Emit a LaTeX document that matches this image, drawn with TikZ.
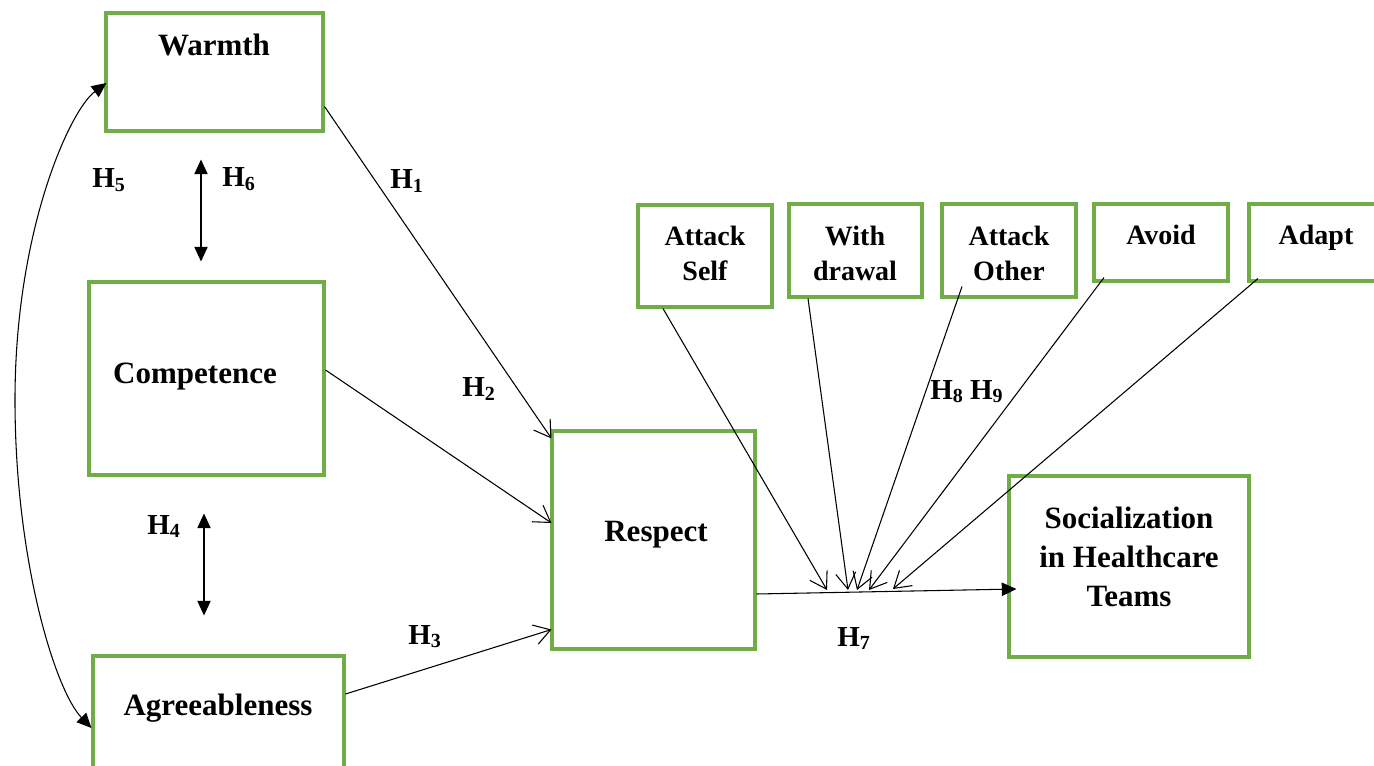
\documentclass[tikz,border=0pt]{standalone}
\usepackage{fontspec}
\setmainfont{Liberation Serif}
\usetikzlibrary{arrows.meta,fit}
\definecolor{boxgreen}{HTML}{70AD47}
% hypothesis label: H with a small, slightly lowered index
\newcommand\hyp[1]{H\raisebox{-0.25ex}{\fontsize{15}{15}\selectfont #1}}
\begin{document}
\begin{tikzpicture}[x=0.75pt,y=-0.75pt,
  box/.style={draw=boxgreen, line width=2.3pt, inner sep=0pt},
  lbl/.style={font=\bfseries\fontsize{23.25}{29.25}\selectfont, inner sep=0pt, anchor=base},
  slbl/.style={font=\bfseries\fontsize{23.25}{29.25}\selectfont, inner sep=0pt, align=center},
  mlbl/.style={font=\bfseries\fontsize{21}{26.25}\selectfont, inner sep=0pt, align=center},
  hlbl/.style={font=\bfseries\fontsize{21.75}{26}\selectfont, inner sep=0pt, anchor=base west},
  link/.style={line width=0.8pt, -{Straight Barb[length=12pt,width=15pt,line width=0.8pt]}},
  solidlink/.style={line width=0.8pt, -{Triangle[length=11pt,width=10pt]}},
  both/.style={line width=0.8pt, {Triangle[length=11pt,width=10pt]}-{Triangle[length=11pt,width=10pt]}}]
\useasboundingbox (0,0) rectangle (1374,766);
\clip (0,0) rectangle (1374,766);

% construct boxes
\node[box, fit={(106,13) (323,131)}] (warmth) {};
\node[box, fit={(89,282) (324,475)}] (comp) {};
\node[box, fit={(93,656) (344,800)}] (agree) {};
\node[box, fit={(552,431) (755,649)}] (respect) {};
\node[box, fit={(1009,476) (1249,657)}] (soc) {};

% conflict styles
\node[box, fit={(638,205) (772,307)}] (aself) {};
\node[box, fit={(789,204) (922,297)}] (withd) {};
\node[box, fit={(942,204) (1076,297)}] (aother) {};
\node[box, fit={(1094,204) (1228,281)}] (avoid) {};
\node[box, fit={(1249,204) (1383,281)}] (adapt) {};

% box texts
\node[lbl] (warmthT) at (214,56) {Warmth};
\node[lbl] (compT) at (195,384) {Competence};
\node[lbl] (agreeT) at (218,715) {Agreeableness};
\node[lbl] (respectT) at (656,541) {Respect};
\node[slbl] (socT) at (1129,557) {Socialization\\in Healthcare\\Teams};
\node[mlbl] (aselfT) at (705,253) {Attack\\Self};
\node[mlbl] (withdT) at (855,253) {With\\drawal};
\node[mlbl] (aotherT) at (1009,253) {Attack\\Other};
\node[mlbl, anchor=base] (avoidT) at (1161,245) {Avoid};
\node[mlbl, anchor=base] (adaptT) at (1316,245) {Adapt};

% paths into Respect
\draw[link] ([shift={(0,-26)}]warmth.south east) -- ([shift={(1,9)}]respect.north west);
\draw[link] ([shift={(0,-8.5)}]comp.east) -- ([shift={(1,-17)}]respect.west);
\draw[link] ([shift={(0,-34)}]agree.east) -- ([shift={(1,-21)}]respect.south west);

% Respect to Socialization
\draw[solidlink] ([shift={(0,54)}]respect.east) -- ([shift={(9,22.5)}]soc.west);

% moderating effects on the Respect -> Socialization path
\coordinate (m1) at (827,590);
\coordinate (m2) at (848,590);
\coordinate (m3) at (857,590);
\coordinate (m4) at (869,590);
\coordinate (m5) at (893,589);
\draw[link] ([shift={(-42,0)}]aself.south) -- (m1);
\draw[link] ([shift={(-47.5,0)}]withd.south) -- (m2);
\draw[link] ([shift={(-47,-12)}]aother.south) -- (m3);
\draw[link] ([shift={(-57,-5)}]avoid.south) -- (m4);
\draw[link] ([shift={(-58,-4)}]adapt.south) -- (m5);

% correlations among the traits
\draw[both] ([shift={(-13.5,27)}]warmth.south) -- ([shift={(-5.5,-19)}]comp.north);
\draw[both] ([shift={(-2.5,37)}]comp.south) -- ([shift={(-14.5,-39)}]agree.north);
\draw[line width=0.8pt, {Triangle[length=11pt,width=10pt]}-{Triangle[length=11pt,width=10pt]}]
  ([shift={(2,11)}]warmth.west) .. controls (70,110) and (15,230) .. (15,400)
  .. controls (15,560) and (55,690) .. (agree.west);

% hypothesis labels
\node[hlbl] (h1) at (390,189) {\hyp{1}};
\node[hlbl] (h2) at (462,397) {\hyp{2}};
\node[hlbl] (h3) at (408,644) {\hyp{3}};
\node[hlbl] (h4) at (147,534) {\hyp{4}};
\node[hlbl] (h5) at (92,188) {\hyp{5}};
\node[hlbl] (h6) at (222,187) {\hyp{6}};
\node[hlbl] (h7) at (837,646) {\hyp{7}};
\node[hlbl] (h89) at (930,399) {\hyp{8} \hyp{9}};
\end{tikzpicture}
\end{document}
